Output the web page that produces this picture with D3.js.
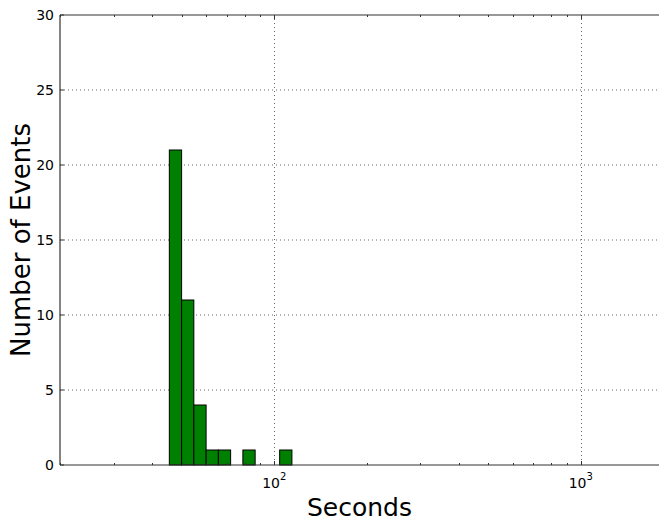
<!DOCTYPE html>
<html>
<head>
<meta charset="utf-8">
<script src="https://cdn.jsdelivr.net/npm/d3@7"></script>
<style>
  html, body { margin: 0; padding: 0; background: #fff; }
  svg { display: block; font-family: "DejaVu Sans", sans-serif; }
</style>
</head>
<body>
<svg id="chart" width="659" height="521"></svg>
<script>
// Histogram of event durations, log-spaced bins
const binEdges = [45.47, 49.86, 54.66, 59.94, 65.72, 72.06, 79.01, 86.63, 94.99, 104.15, 114.2];
const binCounts = [21, 11, 4, 1, 1, 0, 1, 0, 0, 1];
const yTicks = [0, 5, 10, 15, 20, 25, 30];
const xMajorTicks = [100, 1000];
const xMinorTicks = [20, 30, 40, 50, 60, 70, 80, 90, 200, 300, 400, 500, 600, 700, 800, 900];
const xDomain = [20, 1800];
const yDomain = [0, 30];

const svg = d3.select("#chart");
const plotLeft = 60, plotRight = 659, plotTop = 15, plotBottom = 465;

const x = d3.scaleLog().domain(xDomain).range([plotLeft, plotRight]);
const y = d3.scaleLinear().domain(yDomain).range([plotBottom, plotTop]);

const bins = binCounts.map((c, i) => ({ x0: binEdges[i], x1: binEdges[i + 1], count: c }));

// grid
const grid = svg.append("g");
grid.selectAll("line.gy").data(yTicks.filter(t => t > 0 && t < 30)).join("line")
  .attr("x1", plotLeft).attr("x2", plotRight)
  .attr("y1", d => y(d)).attr("y2", d => y(d))
  .attr("stroke", "#000").attr("stroke-width", 0.6).attr("stroke-dasharray", "1,3");
grid.selectAll("line.gx").data(xMajorTicks).join("line")
  .attr("x1", d => Math.round(x(d)) + 0.5).attr("x2", d => Math.round(x(d)) + 0.5)
  .attr("y1", plotTop).attr("y2", plotBottom)
  .attr("stroke", "#000").attr("stroke-width", 0.6).attr("stroke-dasharray", "1,3");

// bars
svg.append("g").selectAll("rect").data(bins.filter(b => b.count > 0)).join("rect")
  .attr("x", d => x(d.x0))
  .attr("width", d => x(d.x1) - x(d.x0))
  .attr("y", d => y(d.count))
  .attr("height", d => y(0) - y(d.count))
  .attr("fill", "#008000")
  .attr("stroke", "#000")
  .attr("stroke-width", 1);

// spines (right spine lies just outside the view)
const spine = svg.append("g").attr("stroke", "#333").attr("stroke-width", 1.2).attr("fill", "none");
spine.append("line").attr("x1", plotLeft).attr("x2", plotLeft).attr("y1", plotTop).attr("y2", plotBottom);
spine.append("line").attr("x1", plotLeft).attr("x2", plotRight + 2).attr("y1", plotTop).attr("y2", plotTop);
spine.append("line").attr("x1", plotLeft).attr("x2", plotRight + 2).attr("y1", plotBottom).attr("y2", plotBottom);

// inward ticks
const ticks = svg.append("g").attr("stroke", "#333").attr("stroke-width", 1);
yTicks.forEach(t => {
  ticks.append("line").attr("x1", plotLeft).attr("x2", plotLeft + 4).attr("y1", y(t)).attr("y2", y(t));
});
xMajorTicks.forEach(t => {
  const px = Math.round(x(t)) + 0.5;
  ticks.append("line").attr("x1", px).attr("x2", px).attr("y1", plotBottom).attr("y2", plotBottom - 4);
  ticks.append("line").attr("x1", px).attr("x2", px).attr("y1", plotTop).attr("y2", plotTop + 4);
});
xMinorTicks.forEach(t => {
  const px = Math.round(x(t)) + 0.5;
  ticks.append("line").attr("x1", px).attr("x2", px).attr("y1", plotBottom).attr("y2", plotBottom - 2);
  ticks.append("line").attr("x1", px).attr("x2", px).attr("y1", plotTop).attr("y2", plotTop + 2);
});

// y tick labels
svg.append("g").selectAll("text").data(yTicks).join("text")
  .attr("x", plotLeft - 6).attr("y", d => y(d))
  .attr("text-anchor", "end").attr("dominant-baseline", "central")
  .attr("font-size", 14).attr("fill", "#000")
  .text(d => d);

// x tick labels as 10^n
const xl = svg.append("g").selectAll("text").data(xMajorTicks).join("text")
  .attr("x", d => x(d)).attr("y", 488)
  .attr("text-anchor", "middle").attr("font-size", 14).attr("fill", "#000");
xl.append("tspan").text("10");
xl.append("tspan").attr("font-size", 10).attr("dy", -8).text(d => Math.round(Math.log10(d)));

// axis titles
svg.append("text").attr("x", (plotLeft + plotRight) / 2).attr("y", 516)
  .attr("text-anchor", "middle").attr("font-size", 25).attr("fill", "#000")
  .text("Seconds");
svg.append("text")
  .attr("transform", `translate(30,${(plotTop + plotBottom) / 2}) rotate(-90)`)
  .attr("text-anchor", "middle").attr("font-size", 26).attr("fill", "#000")
  .text("Number of Events");
</script>
</body>
</html>
